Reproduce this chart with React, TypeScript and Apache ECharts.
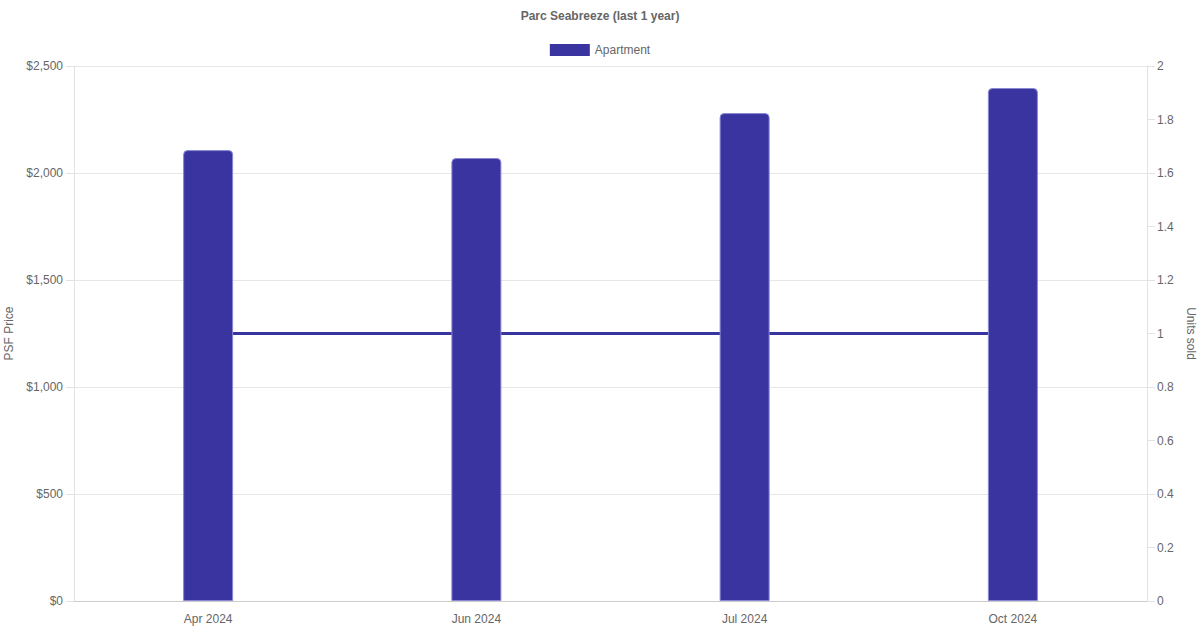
import { useEffect, useRef } from 'react';
import * as echarts from 'echarts';

const months = ['Apr 2024', 'Jun 2024', 'Jul 2024', 'Oct 2024'];
const psfPrice = [2107, 2070, 2280, 2397];
const unitsSold = [1, 1, 1, 1];

const BAR = '#3934a0';
const TEXT = '#666666';
const FONT = 'Arial, "Liberation Sans", Helvetica, sans-serif';

export default function App() {
  const ref = useRef<HTMLDivElement>(null);

  useEffect(() => {
    if (!ref.current) return;
    const chart = echarts.init(ref.current, undefined, { renderer: 'svg' });

    chart.setOption({
      animation: false,
      textStyle: { fontFamily: FONT },
      title: {
        text: 'Parc Seabreeze (last 1 year)',
        left: 'center',
        top: 5,
        textStyle: { fontSize: 12, fontWeight: 'bold', color: TEXT, fontFamily: FONT },
      },
      legend: {
        data: ['Apartment'],
        top: 39,
        left: 'center',
        itemWidth: 40,
        itemHeight: 12,
        itemGap: 10,
        icon: 'rect',
        itemStyle: { borderWidth: 0 },
        textStyle: { fontSize: 12, color: TEXT, fontFamily: FONT },
      },
      grid: {
        left: 74,
        right: 53,
        top: 66,
        bottom: 29,
        containLabel: false,
        outerBoundsMode: 'none',
      },
      xAxis: {
        type: 'category',
        data: months,
        axisLine: { lineStyle: { color: '#cccccc' } },
        axisTick: { show: false },
        axisLabel: { fontSize: 12, color: TEXT, margin: 12 },
        splitLine: { show: false },
      },
      yAxis: [
        {
          type: 'value',
          name: 'PSF Price',
          nameLocation: 'middle',
          nameGap: 57,
          nameTextStyle: { fontSize: 12, color: TEXT },
          min: 0,
          max: 2500,
          interval: 500,
          axisLine: { show: true, lineStyle: { color: '#e2e2e2' } },
          axisTick: { show: true, length: 8, lineStyle: { color: '#e2e2e2' } },
          axisLabel: {
            fontSize: 12,
            color: TEXT,
            margin: 11,
            formatter: (v: number) => '$' + v.toLocaleString('en-US'),
          },
          splitLine: { lineStyle: { color: '#e6e6e6' } },
        },
        {
          type: 'value',
          name: 'Units sold',
          nameLocation: 'middle',
          nameGap: 38,
          nameRotate: -90,
          nameTextStyle: { fontSize: 12, color: TEXT },
          min: 0,
          max: 2,
          interval: 0.2,
          position: 'right',
          axisLine: { show: true, lineStyle: { color: '#e2e2e2' } },
          axisTick: { show: true, length: 8, lineStyle: { color: '#e2e2e2' } },
          axisLabel: { fontSize: 12, color: TEXT, margin: 10 },
          splitLine: { show: false },
        },
      ],
      series: [
        {
          name: 'Units sold',
          type: 'line',
          yAxisIndex: 1,
          data: unitsSold,
          z: 1,
          symbol: 'none',
          lineStyle: { color: BAR, width: 3 },
          itemStyle: { color: BAR },
        },
        {
          name: 'Apartment',
          type: 'bar',
          yAxisIndex: 0,
          data: psfPrice,
          z: 2,
          barWidth: 50,
          itemStyle: {
            color: BAR,
            borderColor: '#8a87d4',
            borderWidth: 1,
            borderRadius: [4, 4, 0, 0],
          },
        },
      ],
    });

    return () => chart.dispose();
  }, []);

  return <div ref={ref} style={{ width: 1200, height: 630, position: 'absolute', left: 0, top: 0 }} />;
}
